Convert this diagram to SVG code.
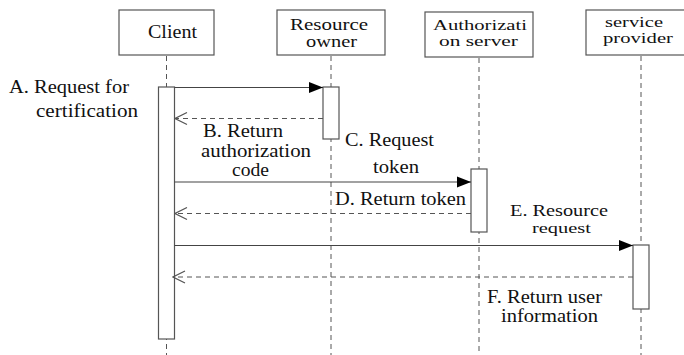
<svg xmlns="http://www.w3.org/2000/svg" width="684" height="355" viewBox="0 0 684 355">
<style>
.box{fill:#fff;stroke:#555;stroke-width:1.2}
.act{fill:#fff;stroke:#555;stroke-width:1.2}
.life{stroke:#555;stroke-width:1;stroke-dasharray:5,4;fill:none}
.msg{stroke:#444;stroke-width:1.2;fill:none}
.ret{stroke:#555;stroke-width:1;stroke-dasharray:5,4;fill:none}
text{fill:#111}
</style>
<defs>
<marker id="filled" markerWidth="14" markerHeight="12" refX="14" refY="6" orient="auto" markerUnits="userSpaceOnUse">
<path d="M0,0.5 L14,6 L0,11.5 Z" fill="#000"/>
</marker>
<marker id="open" markerWidth="14" markerHeight="14" refX="13" refY="7" orient="auto" markerUnits="userSpaceOnUse">
<path d="M1,1 L13,7 L1,13" fill="none" stroke="#555" stroke-width="1.2"/>
</marker>
</defs>

<g id="lifelines">
<line class="life" x1="166.5" y1="56" x2="166.5" y2="355"/>
<line class="life" x1="331" y1="56" x2="331" y2="355"/>
<line class="life" x1="479" y1="58" x2="479" y2="355"/>
<line class="life" x1="641" y1="56" x2="641" y2="355"/>
</g>

<g font-family="Liberation Serif, Times New Roman, DejaVu Serif, serif" font-size="19">
<g id="client">
<rect class="box" x="119" y="10" width="95" height="45"/>
<text x="148" y="38" textLength="49" lengthAdjust="spacingAndGlyphs">Client</text>
</g>
<g id="resource-owner" font-size="16">
<rect class="box" x="277" y="10" width="108" height="45"/>
<text x="290" y="30" textLength="78" lengthAdjust="spacingAndGlyphs">Resource</text>
<text x="306" y="47" textLength="51" lengthAdjust="spacingAndGlyphs">owner</text>
</g>
<g id="authorization-server" font-size="15">
<rect class="box" x="425" y="12" width="108" height="45"/>
<text x="433" y="30" textLength="94" lengthAdjust="spacingAndGlyphs">Authorizati</text>
<text x="439" y="46" textLength="79" lengthAdjust="spacingAndGlyphs">on  server</text>
</g>
<g id="service-provider" font-size="15">
<rect class="box" x="586" y="10" width="100" height="45"/>
<text x="605" y="27" textLength="58" lengthAdjust="spacingAndGlyphs">service</text>
<text x="603" y="43" textLength="70" lengthAdjust="spacingAndGlyphs">provider</text>
</g>

<g id="activations">
<rect class="act" x="158.5" y="87" width="16" height="252"/>
<rect class="act" x="323" y="87" width="16" height="52"/>
<rect class="act" x="471" y="169" width="16" height="63"/>
<rect class="act" x="633" y="245" width="16" height="64"/>
</g>

<g id="connectors">
<line class="msg" x1="174.5" y1="87.5" x2="323" y2="87.5" marker-end="url(#filled)"/>
<line class="ret" x1="323" y1="118.5" x2="175" y2="118.5" marker-end="url(#open)"/>
<line class="msg" x1="174.5" y1="182" x2="471" y2="182" marker-end="url(#filled)"/>
<line class="ret" x1="471" y1="213.5" x2="175" y2="213.5" marker-end="url(#open)"/>
<line class="msg" x1="174.5" y1="245.5" x2="633" y2="245.5" marker-end="url(#filled)"/>
<line class="ret" x1="633" y1="277" x2="173" y2="277" marker-end="url(#open)"/>
</g>

<g id="labels">
<text x="9" y="93" textLength="120" lengthAdjust="spacingAndGlyphs">A. Request for</text>
<text x="36" y="117" textLength="102" lengthAdjust="spacingAndGlyphs">certification</text>
<text x="203" y="137" textLength="80" lengthAdjust="spacingAndGlyphs">B. Return</text>
<text x="201" y="157" textLength="110" lengthAdjust="spacingAndGlyphs">authorization</text>
<text x="232" y="176" textLength="37" lengthAdjust="spacingAndGlyphs">code</text>
<text x="345" y="146" textLength="89" lengthAdjust="spacingAndGlyphs">C. Request</text>
<text x="373" y="173" textLength="46" lengthAdjust="spacingAndGlyphs">token</text>
<text x="335" y="205" textLength="131" lengthAdjust="spacingAndGlyphs">D. Return token</text>
<text x="510" y="216" font-size="17" textLength="98" lengthAdjust="spacingAndGlyphs">E. Resource</text>
<text x="532" y="233" font-size="15" textLength="59" lengthAdjust="spacingAndGlyphs">request</text>
<text x="487" y="303" textLength="115" lengthAdjust="spacingAndGlyphs">F. Return user</text>
<text x="501" y="322" textLength="97" lengthAdjust="spacingAndGlyphs">information</text>
</g>
</g>
</svg>
